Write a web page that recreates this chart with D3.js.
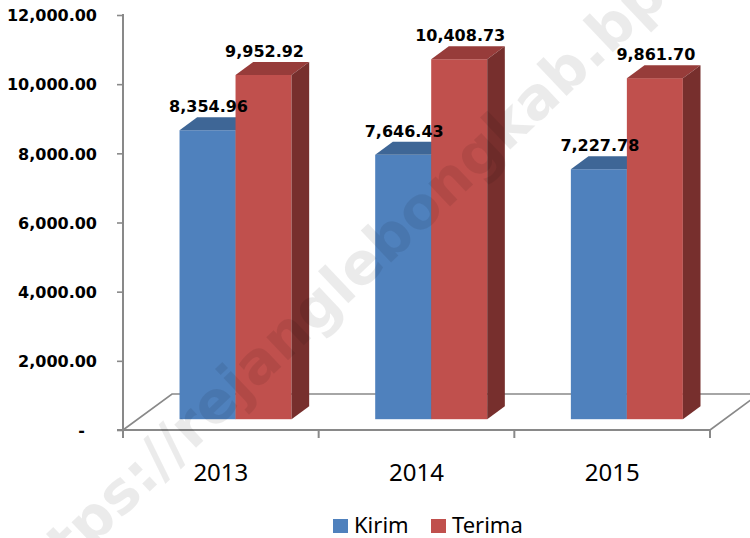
<!DOCTYPE html>
<html>
<head>
<meta charset="utf-8">
<script src="https://cdn.jsdelivr.net/npm/d3@7"></script>
<style>
  html, body { margin: 0; padding: 0; background: #fff; }
  svg { display: block; }
</style>
</head>
<body>
<svg id="chart" width="750" height="538"></svg>
<script>
// data
const years = ["2013", "2014", "2015"];
const seriesNames = ["Kirim", "Terima"];
const kirim = [8354.96, 7646.43, 7227.78];
const terima = [9952.92, 10408.73, 9861.70];
const yTickValues = [0, 2000, 4000, 6000, 8000, 10000, 12000];
const watermark = "https://rejanglebongkab.bps.go.id";

const colors = {
  Kirim:  { front: "#4f81bd", top: "#3e6696", side: "#345985" },
  Terima: { front: "#c0504d", top: "#973c3a", side: "#772f2d" }
};

const svg = d3.select("#chart");

// plot box (front plane)
const plotLeft = 123, plotRight = 710, plotBottom = 430, plotTop = 15;

// 3d depth: full floor depth vector, bars sit in the middle slice
const depthX = 49, depthY = -36;
const barStart = 0.3, barEnd = 0.66;

const x = d3.scaleBand().domain(years).range([plotLeft, plotRight]).padding(0);
const groupW = 112;
const xSub = d3.scaleBand().domain(seriesNames).range([0, groupW]).padding(0);
const y = d3.scaleLinear().domain([0, 12000]).range([plotBottom, plotTop]);

const axisColor = "#898989";

// floor (back + sides)
svg.append("path")
  .attr("fill", "none")
  .attr("stroke", axisColor)
  .attr("stroke-width", 1.6)
  .attr("d", `M${plotLeft},${plotBottom} L${plotLeft + depthX},${plotBottom + depthY} L${plotRight + depthX},${plotBottom + depthY} L${plotRight},${plotBottom}`);

// bars
const data = years.map((yr, i) => ({ year: yr, values: [
  { name: "Kirim", value: kirim[i] },
  { name: "Terima", value: terima[i] }
]}));

const ox = depthX * barStart, oy = depthY * barStart;
const bdx = depthX * (barEnd - barStart), bdy = depthY * (barEnd - barStart);

// flat list of bars with their geometry
const bars = [];
data.forEach(d => {
  const gx = x(d.year) + (x.bandwidth() - groupW) / 2 + ox;
  d.values.forEach(v => {
    const x0 = gx + xSub(v.name);
    bars.push({
      ...v,
      x0: x0,
      x1: x0 + xSub.bandwidth(),
      yb: y(0) + oy,
      yt: y(v.value) + oy
    });
  });
});

const barG = svg.append("g");
bars.forEach(b => {
  const c = colors[b.name];
  // front
  barG.append("rect")
    .attr("x", b.x0).attr("y", b.yt)
    .attr("width", b.x1 - b.x0).attr("height", b.yb - b.yt)
    .attr("fill", c.front);
  // top
  barG.append("polygon")
    .attr("points", [[b.x0, b.yt], [b.x0 + bdx, b.yt + bdy], [b.x1 + bdx, b.yt + bdy], [b.x1, b.yt]].join(" "))
    .attr("fill", c.top);
  // side
  barG.append("polygon")
    .attr("points", [[b.x1, b.yt], [b.x1 + bdx, b.yt + bdy], [b.x1 + bdx, b.yb + bdy], [b.x1, b.yb]].join(" "))
    .attr("fill", c.side);
});

// value labels on top of everything
svg.append("g").selectAll("text")
  .data(bars)
  .join("text")
  .attr("x", b => (b.x0 + b.x1) / 2 + 1)
  .attr("y", b => b.yt - 18)
  .attr("text-anchor", "middle")
  .attr("font-family", "DejaVu Sans")
  .attr("font-weight", "bold")
  .attr("font-size", 16)
  .attr("fill", "#000")
  .text(b => d3.format(",.2f")(b.value));

// y axis
const yAxis = d3.axisLeft(y)
  .tickValues(yTickValues)
  .tickSize(6)
  .tickPadding(20)
  .tickFormat(d => d === 0 ? "-" : d3.format(",.2f")(d));

const gy = svg.append("g").attr("transform", `translate(${plotLeft},0)`).call(yAxis);
gy.select(".domain").remove();
gy.selectAll(".tick line").attr("stroke", axisColor).attr("stroke-width", 1.6);
gy.selectAll(".tick text")
  .attr("font-family", "DejaVu Sans")
  .attr("font-weight", "bold")
  .attr("font-size", 16)
  .attr("fill", "#000")
  .attr("dy", "0.36em")
  .attr("dx", d => d === 0 ? -12 : 0);
svg.append("line")
  .attr("x1", plotLeft).attr("x2", plotLeft)
  .attr("y1", plotTop - 1).attr("y2", plotBottom + 8)
  .attr("stroke", axisColor).attr("stroke-width", 2);

// x axis (front edge of floor)
const xAxis = d3.axisBottom(x).tickSize(0).tickPadding(0);
const gxAxis = svg.append("g").attr("transform", `translate(0,${plotBottom})`).call(xAxis);
gxAxis.select(".domain").remove();
gxAxis.selectAll(".tick text")
  .attr("font-family", "Noto Sans")
  .attr("font-size", 24)
  .attr("fill", "#000")
  .attr("y", 51)
  .attr("dy", 0);
svg.append("line")
  .attr("x1", plotLeft - 6).attr("x2", plotRight)
  .attr("y1", plotBottom).attr("y2", plotBottom)
  .attr("stroke", axisColor).attr("stroke-width", 2);
svg.append("g").selectAll("line")
  .data(years.map(yr => x(yr)).concat([plotRight]))
  .join("line")
  .attr("x1", d => d).attr("x2", d => d)
  .attr("y1", plotBottom).attr("y2", plotBottom + 8)
  .attr("stroke", axisColor).attr("stroke-width", 2);

// legend
const legendX = [333, 431];
const legend = svg.append("g").selectAll("g")
  .data(seriesNames)
  .join("g")
  .attr("transform", (d, i) => `translate(${legendX[i]},519)`);
legend.append("rect")
  .attr("width", 15).attr("height", 14)
  .attr("fill", d => colors[d].front);
legend.append("text")
  .attr("x", 21).attr("y", 14)
  .attr("font-family", "Noto Sans")
  .attr("font-size", 22)
  .attr("fill", "#000")
  .text(d => d);

// watermark (runs off the page on both ends, as in the source image)
svg.append("text")
  .attr("transform", "translate(411,216) rotate(-43.5)")
  .attr("text-anchor", "middle")
  .attr("dominant-baseline", "central")
  .attr("font-family", "DejaVu Sans")
  .attr("font-weight", "bold")
  .attr("font-size", 58)
  .attr("fill", "#000")
  .attr("fill-opacity", 0.08)
  .text(watermark);
</script>
</body>
</html>
